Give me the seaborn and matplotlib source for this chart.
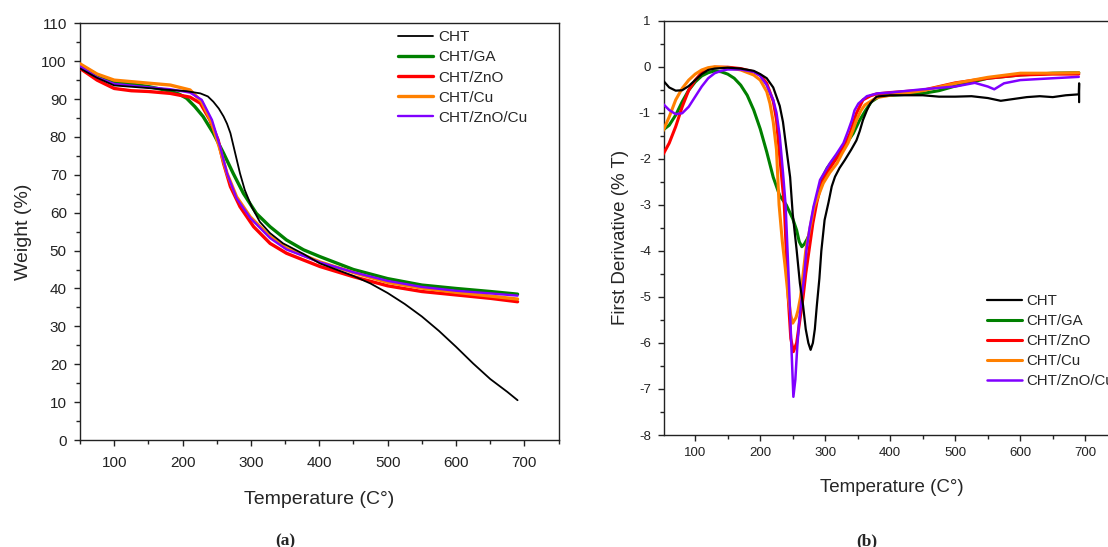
import matplotlib
matplotlib.use("Agg")
import matplotlib.pyplot as plt
from matplotlib.ticker import MultipleLocator
import seaborn as sns

labels = ["CHT", "CHT/GA", "CHT/ZnO", "CHT/Cu", "CHT/ZnO/Cu"]
colors = ["#000000", "#008000", "#ff0000", "#ff8000", "#8000ff"]
widths_tga = [1.3, 2.4, 2.4, 2.4, 1.7]
widths_dtg = [1.6, 2.2, 2.2, 2.2, 1.8]

# (a) TGA curves, weight (%) vs temperature
tga_cht_t = [50, 75, 100, 150, 182, 205, 226, 237, 245, 253, 260, 265, 270, 277, 284, 291, 301, 313, 328,
             347, 377, 401, 450, 475, 500, 525, 550, 575, 600, 625, 650, 675, 690]
tga_cht_w = [98.1, 95.6, 93.6, 92.9, 92.4, 92.1, 91.5, 90.7, 89.3, 87.5, 85.4, 83.5, 81.0, 75.7, 70.4, 66.0,
             61.6, 57.6, 54.6, 51.9, 49.1, 46.6, 43.3, 41.3, 38.8, 35.9, 32.6, 28.8, 24.6, 20.2, 16.1, 12.7,
             10.5]

tga_ga_t = [50, 75, 100, 150, 182, 195, 206, 218, 230, 245, 260, 274, 289, 308, 328, 352, 377, 401,
            450, 500, 550, 600, 650, 690]
tga_ga_w = [99.0, 96.4, 94.6, 93.3, 92.1, 91.3, 90.2, 88.0, 85.4, 81.0, 75.7, 70.4, 65.1, 59.8, 56.3, 52.8,
            50.2, 48.4, 45.0, 42.6, 40.9, 40.0, 39.2, 38.5]

tga_zno_t = [50, 75, 100, 125, 150, 182, 211, 226, 240, 252, 260, 270, 284, 304, 328, 352, 377, 401,
             450, 500, 550, 600, 650, 690]
tga_zno_w = [98.1, 95.0, 92.8, 92.2, 92.0, 91.5, 90.5, 88.9, 84.5, 79.2, 73.0, 66.9, 61.6, 56.3, 51.9, 49.3,
             47.5, 45.8, 43.1, 40.7, 39.2, 38.3, 37.4, 36.5]

tga_cu_t = [50, 75, 100, 150, 182, 211, 228, 243, 255, 265, 279, 299, 328, 352, 401, 450, 500, 550, 600,
            650, 690]
tga_cu_w = [99.3, 96.6, 95.0, 94.2, 93.7, 92.4, 89.3, 83.6, 76.6, 70.4, 64.2, 58.9, 53.7, 50.6, 47.0, 44.2,
            41.6, 40.1, 39.0, 38.0, 37.2]

tga_znocu_t = [50, 75, 100, 150, 182, 211, 228, 243, 255, 265, 279, 299, 328, 352, 401, 450, 500, 550,
               600, 650, 690]
tga_znocu_w = [98.6, 95.7, 94.0, 93.1, 92.6, 91.7, 89.8, 84.5, 77.4, 70.4, 63.8, 58.6, 53.3, 50.3, 46.9,
               44.3, 42.0, 40.4, 39.4, 38.7, 38.1]

# (b) DTG curves, first derivative vs temperature
dtg_cht_t = [50, 60, 70, 80, 90, 100, 110, 120, 130, 150, 170, 190, 200, 210, 220, 230, 235, 240, 246, 250,
             256, 261, 266, 270, 274, 277.5, 281, 284, 287, 291, 294, 299, 305, 310, 315, 322, 330, 340,
             348, 353, 358, 364, 369, 379, 400, 450, 475, 500, 525, 550, 570, 590, 610, 630, 650, 670,
             690, 690.5, 690.5]
dtg_cht_d = [-0.29, -0.45, -0.52, -0.51, -0.42, -0.29, -0.16, -0.07, -0.04, -0.02, -0.04, -0.09, -0.16,
             -0.25, -0.45, -0.85, -1.2, -1.75, -2.4, -3.2, -3.98, -4.7, -5.2, -5.7, -6.0, -6.15, -6.0,
             -5.7, -5.2, -4.6, -4.0, -3.33, -2.95, -2.6, -2.39, -2.2, -2.03, -1.8, -1.6, -1.4, -1.16,
             -0.95, -0.8, -0.65, -0.62, -0.62, -0.65, -0.65, -0.64, -0.68, -0.74, -0.70, -0.66, -0.64,
             -0.66, -0.62, -0.60, -0.36, -0.77]

dtg_ga_t = [50, 60, 70, 80, 90, 100, 110, 120, 130, 140, 150, 160, 170, 180, 190, 200, 210, 220, 230, 240,
            250, 256, 260, 264, 268, 272, 277, 284, 294, 303, 312, 322, 333, 343, 353, 362, 371, 384, 400,
            450, 475, 500, 550, 600, 650, 690]
dtg_ga_d = [-1.38, -1.27, -1.05, -0.76, -0.51, -0.33, -0.20, -0.13, -0.09, -0.11, -0.16, -0.25, -0.40,
            -0.62, -0.94, -1.35, -1.85, -2.4, -2.8, -3.0, -3.3, -3.55, -3.8, -3.91, -3.85, -3.75, -3.6,
            -3.04, -2.46, -2.2, -2.03, -1.85, -1.66, -1.45, -1.16, -0.95, -0.76, -0.64, -0.62, -0.58,
            -0.52, -0.42, -0.25, -0.18, -0.14, -0.13]

dtg_zno_t = [50, 60, 70, 80, 90, 100, 110, 120, 130, 150, 170, 190, 200, 210, 220, 225, 229, 233, 237, 240,
             243, 247, 251, 256, 261, 266, 270, 275, 281, 287, 294, 302, 312, 323, 330, 338, 348, 358, 370,
             379, 400, 450, 500, 550, 600, 650, 690]
dtg_zno_d = [-1.92, -1.66, -1.30, -0.87, -0.51, -0.29, -0.13, -0.04, -0.01, -0.01, -0.04, -0.11, -0.18,
             -0.36, -0.75, -1.15, -1.8, -2.4, -3.0, -4.0, -5.0, -5.9, -6.19, -6.0, -5.5, -5.0, -4.5, -4.0,
             -3.4, -2.95, -2.55, -2.32, -2.1, -1.88, -1.7, -1.45, -1.01, -0.72, -0.63, -0.59, -0.56, -0.51,
             -0.35, -0.25, -0.18, -0.16, -0.16]

dtg_cu_t = [50, 60, 70, 80, 90, 100, 110, 120, 130, 150, 170, 190, 200, 210, 215, 220, 225, 229, 234, 238,
            243, 247, 250, 255, 258, 262, 266, 270, 274, 283, 297, 307, 318, 326, 335, 342, 348, 355, 361,
            379, 400, 450, 500, 550, 600, 650, 690]
dtg_cu_d = [-1.41, -1.09, -0.72, -0.47, -0.29, -0.16, -0.07, -0.02, 0.0, -0.02, -0.07, -0.18, -0.29, -0.54,
            -0.8, -1.2, -1.8, -3.0, -3.8, -4.3, -5.0, -5.4, -5.57, -5.45, -5.3, -5.0, -4.5, -4.0, -3.69,
            -3.04, -2.53, -2.3, -2.1, -1.88, -1.66, -1.4, -1.16, -0.95, -0.83, -0.67, -0.62, -0.52, -0.36,
            -0.23, -0.14, -0.14, -0.13]

dtg_znocu_t = [50, 60, 70, 80, 90, 100, 110, 120, 130, 140, 150, 170, 190, 200, 210, 220, 225, 230, 235,
               239, 242, 245, 248, 251, 254, 257, 260, 264, 268, 271, 276, 282, 292, 307, 317, 328, 335,
               341, 345, 351, 364, 380, 400, 450, 500, 530, 550, 560, 575, 600, 650, 690]
dtg_znocu_d = [-0.80, -0.94, -1.03, -1.01, -0.87, -0.65, -0.43, -0.25, -0.14, -0.09, -0.06, -0.06, -0.11,
               -0.20, -0.40, -0.72, -1.0, -1.5, -2.3, -3.0, -4.0, -5.0, -6.1, -7.17, -6.8, -6.08, -5.5,
               -5.0, -4.5, -4.0, -3.5, -3.04, -2.46, -2.1, -1.9, -1.66, -1.4, -1.16, -0.95, -0.80, -0.64,
               -0.58, -0.56, -0.49, -0.43, -0.35, -0.43, -0.49, -0.36, -0.29, -0.25, -0.22]

tga = [(tga_cht_t, tga_cht_w), (tga_ga_t, tga_ga_w), (tga_zno_t, tga_zno_w),
       (tga_cu_t, tga_cu_w), (tga_znocu_t, tga_znocu_w)]
dtg = [(dtg_cht_t, dtg_cht_d), (dtg_ga_t, dtg_ga_d), (dtg_zno_t, dtg_zno_d),
       (dtg_cu_t, dtg_cu_d), (dtg_znocu_t, dtg_znocu_d)]

sns.set_theme(style="ticks")
plt.rcParams["font.family"] = ["Liberation Sans", "DejaVu Sans"]
plt.rcParams["axes.unicode_minus"] = False

W, H = 1108, 547
fig = plt.figure(figsize=(W / 100, H / 100), dpi=100)
ax1 = fig.add_axes([80 / W, 1 - 440 / H, 478.6 / W, 416.7 / H])
ax2 = fig.add_axes([664 / W, 1 - 435 / H, 453.8 / W, 414.3 / H])


def draw(ax, series, widths):
    for (x, y), lab, col, lw in zip(series, labels, colors, widths):
        sns.lineplot(x=x, y=y, ax=ax, color=col, lw=lw, label=lab, sort=False,
                     estimator=None, zorder=5 if lab == "CHT" else 3)


def style_axes(ax, tick_size, pad_x, pad_y):
    for s in ax.spines.values():
        s.set_linewidth(1.0)
        s.set_color("#222222")
    ax.tick_params(which="major", direction="out", length=4.5, width=1.0, labelsize=tick_size, colors="#222222")
    ax.tick_params(which="minor", direction="out", length=3, width=1.0, colors="#222222")
    ax.tick_params(axis="x", which="major", pad=pad_x)
    ax.tick_params(axis="y", which="major", pad=pad_y)
    ax.grid(False)


# panel (a)
draw(ax1, tga, widths_tga)
ax1.set_xlim(50, 750)
ax1.set_ylim(0, 110)
ax1.xaxis.set_major_locator(MultipleLocator(100))
ax1.xaxis.set_minor_locator(MultipleLocator(50))
ax1.yaxis.set_major_locator(MultipleLocator(10))
ax1.yaxis.set_minor_locator(MultipleLocator(5))
ax1.set_xticks([100, 200, 300, 400, 500, 600, 700])
style_axes(ax1, 11, 7, 5)
ax1.set_xlabel("Temperature (C°)", fontsize=14)
ax1.set_ylabel("Weight (%)", fontsize=14)
ax1.xaxis.set_label_coords(0.5, -0.122)
ax1.yaxis.set_label_coords(-0.101, 0.5)
ax1.legend(loc="upper left", bbox_to_anchor=(0.665, 0.983), frameon=False, fontsize=11,
           handlelength=2.3, handletextpad=0.3, labelspacing=0.4, borderpad=0, borderaxespad=0)

# panel (b)
draw(ax2, dtg, widths_dtg)
ax2.set_xlim(52, 750)
ax2.set_ylim(-8, 1)
ax2.xaxis.set_major_locator(MultipleLocator(100))
ax2.xaxis.set_minor_locator(MultipleLocator(50))
ax2.yaxis.set_major_locator(MultipleLocator(1))
ax2.yaxis.set_minor_locator(MultipleLocator(0.5))
ax2.set_xticks([100, 200, 300, 400, 500, 600, 700])
ax2.set_yticks(range(-8, 2))
style_axes(ax2, 9.5, 4.5, 5)
ax2.set_xlabel("Temperature (C°)", fontsize=13.5)
ax2.set_ylabel("First Derivative (% T)", fontsize=13.5)
ax2.xaxis.set_label_coords(0.502, -0.105)
ax2.yaxis.set_label_coords(-0.078, 0.478)
ax2.legend(loc="upper left", bbox_to_anchor=(0.7124, 0.340), frameon=False, fontsize=10.8,
           handlelength=2.3, handletextpad=0.3, labelspacing=0.4, borderpad=0, borderaxespad=0)

fig.text(285 / W, 1 - 541 / H, "(a)", ha="center", va="center", fontsize=12.5,
         fontweight="bold", family=["Liberation Serif", "DejaVu Serif"])
fig.text(867 / W, 1 - 541 / H, "(b)", ha="center", va="center", fontsize=12.5,
         fontweight="bold", family=["Liberation Serif", "DejaVu Serif"])

fig.savefig("out.png", dpi=100)
